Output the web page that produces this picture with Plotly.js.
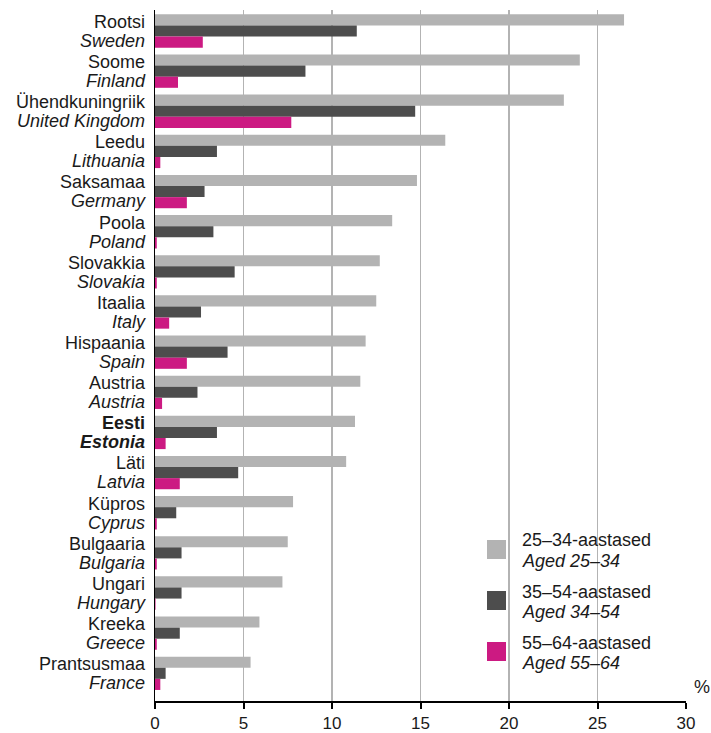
<!DOCTYPE html>
<html>
<head>
<meta charset="utf-8">
<script src="https://cdn.plot.ly/plotly-3.0.1.min.js"></script>
<style>
  html, body { margin: 0; padding: 0; background: #ffffff; }
  #chart { width: 711px; height: 733px; }
</style>
</head>
<body>
<div id="chart"></div>
<script>
// Country names (Estonian / English)
const estLabels = ["Rootsi", "Soome", "Ühendkuningriik", "Leedu", "Saksamaa", "Poola", "Slovakkia", "Itaalia", "Hispaania", "Austria", "Eesti", "Läti", "Küpros", "Bulgaaria", "Ungari", "Kreeka", "Prantsusmaa"];
const engLabels = ["Sweden", "Finland", "United Kingdom", "Lithuania", "Germany", "Poland", "Slovakia", "Italy", "Spain", "Austria", "Estonia", "Latvia", "Cyprus", "Bulgaria", "Hungary", "Greece", "France"];
const highlighted = "Eesti";

// Values, %
const aged25_34 = [26.5, 24.0, 23.1, 16.4, 14.8, 13.4, 12.7, 12.5, 11.9, 11.6, 11.3, 10.8, 7.8, 7.5, 7.2, 5.9, 5.4];
const aged35_54 = [11.4, 8.5, 14.7, 3.5, 2.8, 3.3, 4.5, 2.6, 4.1, 2.4, 3.5, 4.7, 1.2, 1.5, 1.5, 1.4, 0.6];
const aged55_64 = [2.7, 1.3, 7.7, 0.3, 1.8, 0.1, 0.1, 0.8, 1.8, 0.4, 0.6, 1.4, 0.1, 0.1, 0.03, 0.1, 0.3];

// Series names
const seriesEst = ["25–34-aastased", "35–54-aastased", "55–64-aastased"];
const seriesEng = ["Aged 25–34", "Aged 34–54", "Aged 55–64"];
const xTicks = [0, 5, 10, 15, 20, 25, 30];

const colors = ["#b3b3b3", "#4d4d4d", "#cc1a82"];
const FONT = "Liberation Sans, Arial, sans-serif";
const TXT = "#1a1a1a";

const catKeys = estLabels.map((e, i) => e + " / " + engLabels[i]);
const idx = estLabels.map((_, i) => i);
const estText = estLabels.map(e => e === highlighted ? "<b>" + e + "</b>" : e);
const engText = engLabels.map((e, i) => estLabels[i] === highlighted ? "<b><i>" + e + "</i></b>" : "<i>" + e + "</i>");

const seriesValues = [aged25_34, aged35_54, aged55_64];
const traces = seriesValues.map((vals, k) => ({
  type: "bar",
  orientation: "h",
  x: vals,
  y: catKeys,
  name: seriesEst[k] + " / " + seriesEng[k],
  marker: { color: colors[k], line: { width: 0 } },
  showlegend: false,
  hoverinfo: "x+name"
}));
// empty carrier traces so the two label axes (Estonian / English lines) are drawn
["y2", "y3"].forEach(ya => traces.push({
  type: "scatter", mode: "markers", x: [], y: [],
  xaxis: "x", yaxis: ya, showlegend: false, hoverinfo: "skip"
}));

// Geometry of the category axis
const rTop = -0.523, rBottom = 16.69;
const lineShift = 0.237; // half line spacing, in category units

// Manual legend (swatches + two-line labels)
const legSwatchY = [[0.2055, 0.2330], [0.1317, 0.1592], [0.0579, 0.0854]];
const legLine1Y = [0.2323, 0.1578, 0.0839];
const legLine2Y = [0.2026, 0.1295, 0.0550];

const shapes = [{
  type: "rect", xref: "paper", yref: "paper", layer: "between",
  x0: 0.612, x1: 0.9605, y0: 0.031, y1: 0.2605,
  fillcolor: "#ffffff", line: { width: 0 }
}];
const annotations = [];
colors.forEach((c, k) => {
  shapes.push({
    type: "rect", xref: "paper", yref: "paper", layer: "above",
    x0: 0.6252, x1: 0.661, y0: legSwatchY[k][0], y1: legSwatchY[k][1],
    fillcolor: c, line: { width: 0 }
  });
  annotations.push({
    xref: "paper", yref: "paper", x: 0.687, y: legLine1Y[k],
    xanchor: "left", yanchor: "middle", showarrow: false,
    text: seriesEst[k], font: { family: FONT, size: 18, color: TXT }
  });
  annotations.push({
    xref: "paper", yref: "paper", x: 0.687, y: legLine2Y[k],
    xanchor: "left", yanchor: "middle", showarrow: false,
    text: "<i>" + seriesEng[k] + "</i>", font: { family: FONT, size: 18, color: TXT }
  });
});
annotations.push({
  xref: "paper", yref: "paper",
  x: 1.03, y: 0.02,
  xanchor: "center", yanchor: "middle",
  text: "%", showarrow: false,
  font: { family: FONT, size: 18, color: TXT }
});

const labelAxis = (shift, texts) => ({
  overlaying: "y",
  anchor: "x",
  side: "left",
  type: "linear",
  range: [rBottom + shift, rTop + shift],
  tickmode: "array",
  tickvals: idx,
  ticktext: texts,
  showline: false,
  showgrid: false,
  zeroline: false,
  ticks: "",
  ticklabelstandoff: 9,
  tickfont: { family: FONT, size: 18, color: TXT },
  fixedrange: true
});

const layout = {
  width: 711,
  height: 733,
  margin: { l: 155, r: 25, t: 10, b: 32 },
  paper_bgcolor: "#ffffff",
  plot_bgcolor: "#ffffff",
  font: { family: FONT, size: 18, color: TXT },
  barmode: "group",
  bargap: 0.17,
  bargroupgap: 0,
  showlegend: false,
  xaxis: {
    range: [0, 30],
    tickmode: "array",
    tickvals: xTicks,
    ticktext: xTicks.map(String),
    ticks: "outside",
    ticklen: 6,
    tickwidth: 2,
    tickcolor: "#000000",
    ticklabelstandoff: 0,
    showline: true,
    linecolor: "#000000",
    linewidth: 2,
    showgrid: true,
    gridcolor: "#b3b3b3",
    gridwidth: 1.5,
    zeroline: false,
    tickfont: { family: FONT, size: 17, color: TXT },
    fixedrange: true
  },
  yaxis: {
    type: "category",
    categoryorder: "array",
    categoryarray: catKeys,
    range: [rBottom, rTop],
    showline: true,
    linecolor: "#000000",
    linewidth: 1.5,
    ticks: "",
    showticklabels: false,
    showgrid: false,
    zeroline: false,
    fixedrange: true
  },
  yaxis2: labelAxis(lineShift, estText),
  yaxis3: labelAxis(-lineShift, engText),
  shapes: shapes,
  annotations: annotations
};

Plotly.newPlot("chart", traces, layout, { displayModeBar: false, staticPlot: true });
</script>
</body>
</html>
